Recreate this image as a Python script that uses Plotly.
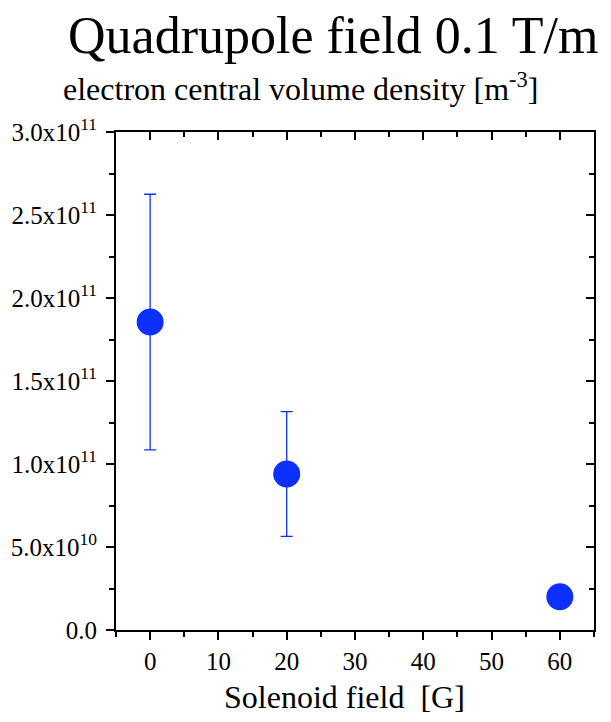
import plotly.graph_objects as go

solenoid_field = [0, 20, 60]
density = [1.855e11, 0.94e11, 0.20e11]
density_err = [0.77e11, 0.376e11, 0.0]

y_tickvals = [0, 0.5e11, 1.0e11, 1.5e11, 2.0e11, 2.5e11, 3.0e11]
y_ticktext = ["0.0", "5.0x10<sup>10</sup>", "1.0x10<sup>11</sup>", "1.5x10<sup>11</sup>",
              "2.0x10<sup>11</sup>", "2.5x10<sup>11</sup>", "3.0x10<sup>11</sup>"]
x_tickvals = [0, 10, 20, 30, 40, 50, 60]

title_text = "Quadrupole field 0.1 T/m"
subtitle_text = "electron central volume density [m<sup>-3</sup>]"
xtitle_text = "Solenoid field  [G]"

FONT = "Liberation Serif, Times New Roman, serif"
BLUE = "rgb(14,48,255)"

OFF = 8  # default page body margin
W, H = 611 - OFF, 722 - OFF
# desired plot area in page pixels: left 116, right 594, top 132, bottom 630
L, T = 116 - OFF, 132 - OFF
R = (OFF + W) - 594
B = (OFF + H) - 630
pw, ph = W - L - R, H - T - B

def px_to_paper_x(px):
    return (px - OFF - L) / pw

def px_to_paper_y(py):
    return (OFF + H - B - py) / ph

fig = go.Figure()
fig.add_trace(go.Scatter(
    x=solenoid_field, y=density,
    mode="markers",
    marker=dict(size=27, color=BLUE),
    error_y=dict(type="data", array=density_err, visible=True,
                 color=BLUE, thickness=1.3, width=6),
    showlegend=False,
))
# invisible trace to anchor mirrored axes
fig.add_trace(go.Scatter(x=[solenoid_field[0]], y=[density[0]], xaxis="x2", yaxis="y2",
                         mode="markers", marker=dict(opacity=0), showlegend=False,
                         hoverinfo="skip"))

axis_common = dict(showline=True, linecolor="black", linewidth=2, showgrid=False,
                   zeroline=False, tickcolor="black", tickwidth=2, automargin=False)

fig.update_layout(
    width=W, height=H,
    margin=dict(l=L, r=R, t=T, b=B, autoexpand=False),
    plot_bgcolor="white", paper_bgcolor="white",
    font=dict(family=FONT, color="black"),
    xaxis=dict(range=[-5, 65], tickvals=x_tickvals, ticks="outside", ticklen=8,
               tickfont=dict(size=25, family=FONT),
               minor=dict(ticks="outside", ticklen=5, dtick=5, tickcolor="black", tickwidth=2, tick0=0),
               **axis_common),
    yaxis=dict(range=[0, 3e11], tickvals=y_tickvals, ticktext=y_ticktext, ticks="outside",
               ticklen=8, tickfont=dict(size=25, family=FONT), ticklabelstandoff=4,
               minor=dict(ticks="outside", ticklen=5, dtick=0.25e11, tickcolor="black", tickwidth=2, tick0=0),
               **axis_common),
    xaxis2=dict(range=[-5, 65], overlaying="x", side="top", tickvals=x_tickvals,
                showticklabels=False, ticks="inside", ticklen=8,
                minor=dict(ticks="inside", ticklen=5, dtick=5, tickcolor="black", tickwidth=2, tick0=0),
                **axis_common),
    yaxis2=dict(range=[0, 3e11], overlaying="y", side="right", tickvals=y_tickvals,
                showticklabels=False, ticks="inside", ticklen=8,
                minor=dict(ticks="inside", ticklen=5, dtick=0.25e11, tickcolor="black", tickwidth=2, tick0=0),
                **axis_common),
    annotations=[
        dict(text=title_text, x=px_to_paper_x(333), y=px_to_paper_y(35), xref="paper", yref="paper",
             showarrow=False, xanchor="center", yanchor="middle", font=dict(size=52, family=FONT)),
        dict(text=subtitle_text, x=px_to_paper_x(300), y=px_to_paper_y(87), xref="paper", yref="paper",
             showarrow=False, xanchor="center", yanchor="middle", font=dict(size=32, family=FONT)),
        dict(text=xtitle_text, x=px_to_paper_x(344), y=px_to_paper_y(697), xref="paper", yref="paper",
             showarrow=False, xanchor="center", yanchor="middle", font=dict(size=32, family=FONT)),
    ],
)

fig.write_html("out.html")
